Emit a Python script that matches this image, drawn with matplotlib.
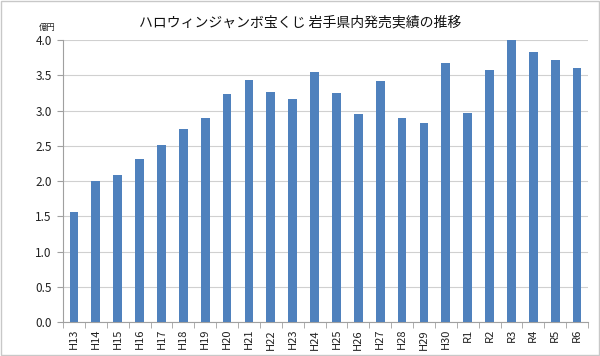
import matplotlib
matplotlib.use("Agg")
import matplotlib.pyplot as plt
from matplotlib.patches import Rectangle

plt.rcParams['font.family'] = ['Noto Sans CJK JP', 'DejaVu Sans']

categories = ["H13", "H14", "H15", "H16", "H17", "H18", "H19", "H20", "H21", "H22",
              "H23", "H24", "H25", "H26", "H27", "H28", "H29", "H30", "R1", "R2",
              "R3", "R4", "R5", "R6"]
values = [1.56, 2.00, 2.09, 2.31, 2.51, 2.74, 2.89, 3.23, 3.44, 3.27,
          3.16, 3.54, 3.25, 2.95, 3.42, 2.90, 2.82, 3.68, 2.96, 3.58,
          4.00, 3.83, 3.71, 3.61]
yticks = [0.0, 0.5, 1.0, 1.5, 2.0, 2.5, 3.0, 3.5, 4.0]
title = "ハロウィンジャンボ宝くじ 岩手県内発売実績の推移"
unit = "億円"

fig = plt.figure(figsize=(6.0, 3.56), dpi=100)
fig.patches.append(Rectangle((0.002, 0.003), 0.996, 0.994, transform=fig.transFigure,
                             fill=False, edgecolor="#c8c8c8", linewidth=1))
ax = fig.add_axes([0.105, 0.0955, 0.875, 0.792])

x = list(range(len(categories)))
ax.bar(x, values, width=0.4, color="#4f81bd", zorder=3)
ax.set_xlim(-0.5, len(categories) - 0.5)
ax.set_ylim(0, 4.0)
ax.set_yticks(yticks)
ax.set_yticklabels([f"{v:.1f}" for v in yticks], fontsize=8.5, color="#222222")
ax.set_xticks(x)
ax.set_xticklabels(categories, rotation=90, fontsize=8, color="#222222")
ax.set_xticks([i - 0.5 for i in range(len(categories) + 1)], minor=True)
ax.tick_params(axis="x", which="major", length=0, pad=5)
ax.tick_params(axis="x", which="minor", length=4, color="#a0a0a0")
ax.tick_params(axis="y", length=4, color="#a0a0a0", pad=4)
ax.yaxis.grid(True, color="#d0d0d0", linewidth=0.8, zorder=0)
for s in ["top", "right"]:
    ax.spines[s].set_visible(False)
ax.spines["left"].set_color("#a0a0a0")
ax.spines["bottom"].set_color("#a0a0a0")

fig.text(0.5, 0.938, title, ha="center", va="center", fontsize=10, color="#111111")
fig.text(0.078, 0.922, unit, ha="center", va="center", fontsize=6, color="#222222")

fig.savefig("out.png", dpi=100)
